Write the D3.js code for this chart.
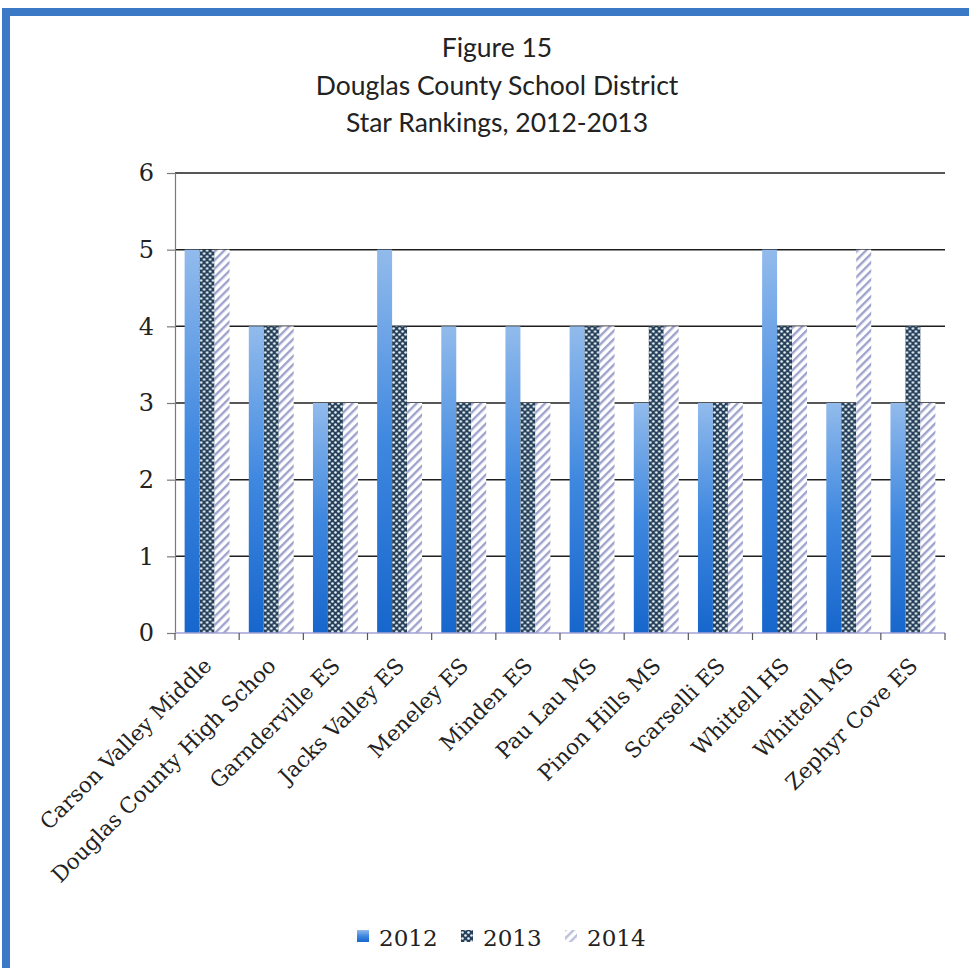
<!DOCTYPE html>
<html>
<head>
<meta charset="utf-8">
<script src="https://cdn.jsdelivr.net/npm/d3@7"></script>
<style>
  html, body { margin: 0; padding: 0; background: #fff; }
  svg { display: block; }
</style>
</head>
<body>
<svg id="chart" width="969" height="968"></svg>
<script>
// School star rankings per year
const schools = [
  "Carson Valley Middle", "Douglas County High Schoo", "Garnderville ES",
  "Jacks Valley ES", "Meneley ES", "Minden ES", "Pau Lau MS",
  "Pinon Hills MS", "Scarselli ES", "Whittell HS", "Whittell MS", "Zephyr Cove ES"
];
const years = ["2012", "2013", "2014"];
const stars2012 = [5, 4, 3, 5, 4, 4, 4, 3, 3, 5, 3, 3];
const stars2013 = [5, 4, 3, 4, 3, 3, 4, 4, 3, 4, 3, 4];
const stars2014 = [5, 4, 3, 3, 3, 3, 4, 4, 3, 4, 5, 3];
const yTicks = [0, 1, 2, 3, 4, 5, 6];
const titleLines = ["Figure 15", "Douglas County School District", "Star Rankings, 2012-2013"];

const seriesValues = { "2012": stars2012, "2013": stars2013, "2014": stars2014 };
const rows = schools.map((s, i) => ({ school: s, values: years.map(y => ({ year: y, value: seriesValues[y][i] })) }));

const svg = d3.select("#chart");
const W = 969, H = 968;
const plot = { left: 175, right: 945, top: 173, bottom: 633 };

// Frame edges
svg.append("rect").attr("x", 0).attr("y", 0).attr("width", W).attr("height", H).attr("fill", "#fff");
svg.append("rect").attr("x", 2).attr("y", 8).attr("width", W).attr("height", 8).attr("fill", "#3b78c6");
svg.append("rect").attr("x", 2).attr("y", 8).attr("width", 8).attr("height", H).attr("fill", "#3b78c6");

// Fills
const defs = svg.append("defs");
const grad = defs.append("linearGradient").attr("id", "g2012")
  .attr("x1", 0).attr("y1", 0).attr("x2", 0).attr("y2", 1);
grad.append("stop").attr("offset", "0%").attr("stop-color", "#92bbec");
grad.append("stop").attr("offset", "50%").attr("stop-color", "#3f88e0");
grad.append("stop").attr("offset", "100%").attr("stop-color", "#1766cc");

const dots = defs.append("pattern").attr("id", "p2013")
  .attr("patternUnits", "userSpaceOnUse").attr("width", 6).attr("height", 6);
dots.append("rect").attr("width", 6).attr("height", 6).attr("fill", "#24405a");
dots.append("circle").attr("cx", 1.5).attr("cy", 1.5).attr("r", 1.3).attr("fill", "#eef2f6");
dots.append("circle").attr("cx", 4.5).attr("cy", 4.5).attr("r", 1.3).attr("fill", "#eef2f6");

const stripes = defs.append("pattern").attr("id", "p2014")
  .attr("patternUnits", "userSpaceOnUse").attr("width", 6).attr("height", 6)
  .attr("patternTransform", "rotate(45)");
stripes.append("rect").attr("width", 6).attr("height", 6).attr("fill", "#ffffff");
stripes.append("rect").attr("x", 0).attr("y", 0).attr("width", 2.4).attr("height", 6).attr("fill", "#9ea3cc");

const fillFor = { "2012": "url(#g2012)", "2013": "url(#p2013)", "2014": "url(#p2014)" };

// Scales
const x0 = d3.scaleBand().domain(schools).range([plot.left, plot.right])
  .paddingInner(0.3).paddingOuter(0.15);
const x1 = d3.scaleBand().domain(years).range([0, x0.bandwidth()]);
const y = d3.scaleLinear().domain([0, 6]).range([plot.bottom, plot.top]);

// Title
svg.append("g").selectAll("text").data(titleLines).join("text")
  .attr("x", 497).attr("y", (d, i) => 57 + i * 37.5)
  .attr("text-anchor", "middle")
  .attr("font-family", "Lato, 'Open Sans', sans-serif")
  .attr("font-size", 26.5).attr("fill", "#222")
  .text(d => d);

// Gridlines
svg.append("g").selectAll("line").data(yTicks.filter(t => t > 0)).join("line")
  .attr("x1", plot.left).attr("x2", plot.right)
  .attr("y1", d => y(d)).attr("y2", d => y(d))
  .attr("stroke", "#1e1e1e").attr("stroke-width", 1.5);

// Bars
const groups = svg.append("g").selectAll("g").data(rows).join("g")
  .attr("transform", d => `translate(${x0(d.school)},0)`);
groups.selectAll("rect").data(d => d.values).join("rect")
  .attr("x", d => x1(d.year)).attr("width", x1.bandwidth())
  .attr("y", d => y(d.value)).attr("height", d => y(0) - y(d.value))
  .attr("fill", d => fillFor[d.year]);

// Y axis
const yAxis = svg.append("g").attr("transform", `translate(${plot.left},0)`)
  .call(d3.axisLeft(y).tickValues(yTicks).tickSize(8).tickPadding(13).tickFormat(d3.format("d")));
yAxis.select(".domain").attr("stroke", "#7a7a7a").attr("stroke-width", 1.2);
yAxis.selectAll(".tick line").attr("stroke", "#7a7a7a").attr("stroke-width", 1.2);
yAxis.selectAll(".tick text").attr("font-family", "'DejaVu Serif', serif")
  .attr("font-size", 24).attr("fill", "#222");

// X axis with tick marks at category boundaries
const step = x0.step();
const boundaries = d3.range(schools.length + 1).map(i => plot.left + i * step);
const xb = svg.append("g");
xb.append("line").attr("x1", plot.left).attr("x2", plot.right)
  .attr("y1", plot.bottom).attr("y2", plot.bottom)
  .attr("stroke", "#a3a3d6").attr("stroke-width", 1.5);
xb.selectAll("line.tk").data(boundaries).join("line").attr("class", "tk")
  .attr("x1", d => d).attr("x2", d => d)
  .attr("y1", plot.bottom).attr("y2", plot.bottom + 7)
  .attr("stroke", "#555").attr("stroke-width", 1.2);

// Category labels, rotated
svg.append("g").selectAll("text").data(schools).join("text")
  .attr("transform", d => `translate(${x0(d) + x0.bandwidth() / 2 + 6},${plot.bottom + 34}) rotate(-45)`)
  .attr("text-anchor", "end")
  .attr("font-family", "'DejaVu Serif', serif")
  .attr("font-size", 21.5).attr("fill", "#222")
  .text(d => d);

// Legend
const legend = svg.append("g").attr("transform", "translate(357,937)");
const legendX = [0, 104, 208];
const items = legend.selectAll("g").data(years).join("g")
  .attr("transform", (d, i) => `translate(${legendX[i]},0)`);
items.append("rect").attr("x", 0).attr("y", -7).attr("width", 12).attr("height", 12)
  .attr("fill", d => fillFor[d]).attr("opacity", (d) => d === "2014" ? 0.7 : 1);
items.append("text").attr("x", 22).attr("y", 9)
  .attr("font-family", "'DejaVu Serif', serif")
  .attr("font-size", 23).attr("fill", "#222")
  .text(d => d);
</script>
</body>
</html>
